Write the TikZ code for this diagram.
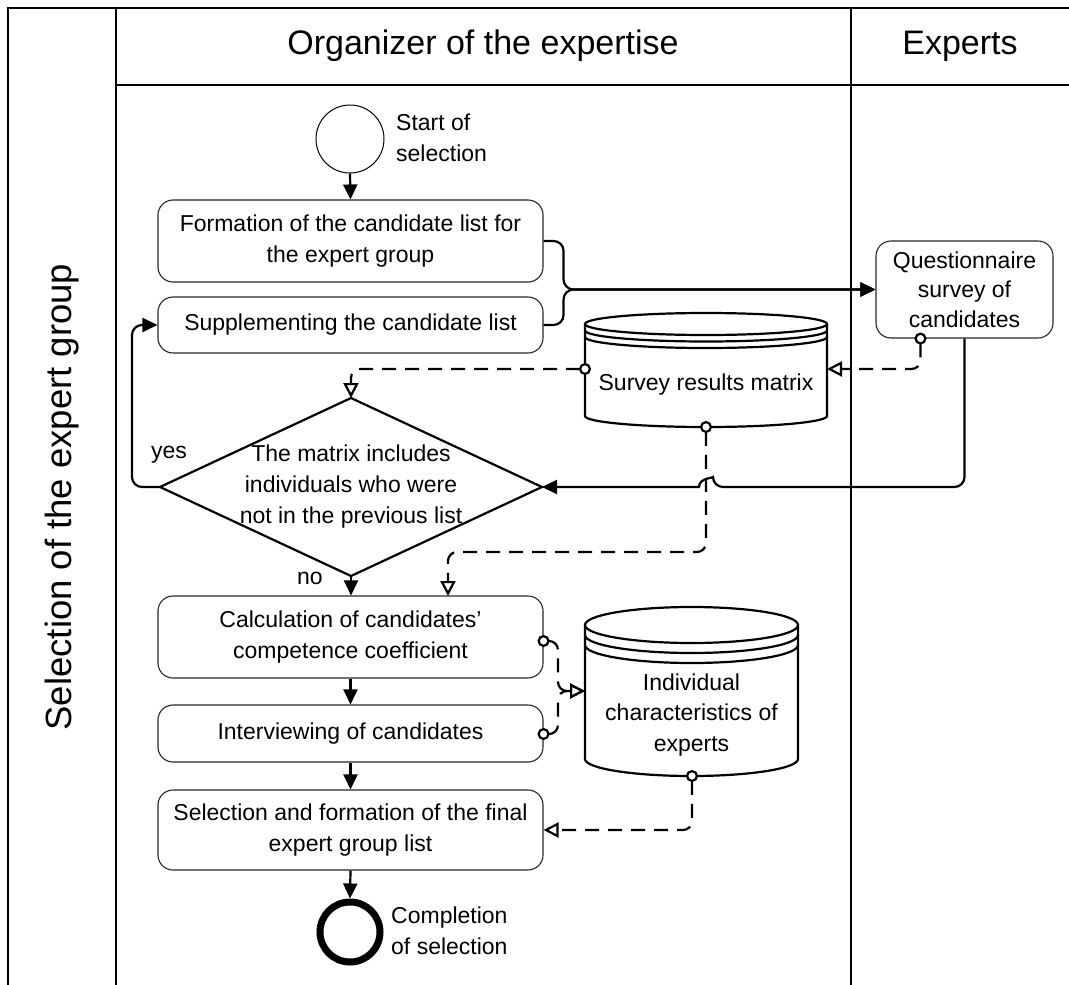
\documentclass[tikz,border=0pt]{standalone}
\usepackage{fontspec}
\setmainfont{Liberation Sans}
\usetikzlibrary{arrows.meta,calc}
\begin{document}
\begin{tikzpicture}[x=1pt,y=-1pt,
  lane/.style={line width=2.2pt,black},
  txt/.style={font=\fontsize{23}{31}\selectfont, align=center, inner sep=0pt},
  proc/.style={draw=black!85, line width=1.1pt, rounded corners=15pt, minimum width=385pt, inner sep=0pt, txt},
  flow/.style={line width=2.2pt, -{Triangle[length=15pt,width=14pt]}, rounded corners=10pt},
  info/.style={line width=2.2pt, dash pattern=on 14pt off 9pt, {Circle[length=12pt,width=12pt,fill=white]}-{Triangle[open,length=15pt,width=15pt]}, rounded corners=9pt, shorten <=-6pt},
  store/.style={line width=2.2pt},
]
\useasboundingbox (0,0) rectangle (1069,985);

% swimlane frame
\draw[lane] (8,985) -- (8,8) -- (1069,8);
\draw[lane] (116,8) -- (116,985);
\draw[lane] (851,8) -- (851,985);
\draw[lane] (116,85) -- (1069,85);
\node[font=\fontsize{36.5}{40}\selectfont, rotate=90, inner sep=0pt] (title) at (62,497) {Selection of the expert group};
\node[font=\fontsize{34}{40}\selectfont, inner sep=0pt] (h1) at (483,46) {Organizer of the expertise};
\node[font=\fontsize{34}{40}\selectfont, inner sep=0pt] (h2) at (960,46) {Experts};

% start / end
\node[draw, line width=1pt, circle, minimum size=68pt, inner sep=0pt] (start) at (350,139) {};
\node[txt, align=left, anchor=west] (startlbl) at (396,138) {Start of\\selection};
\node[draw, line width=7pt, circle, minimum size=60pt, inner sep=0pt] (finish) at (350,932) {};
\node[txt, align=left, anchor=west] (finlbl) at (391,931) {Completion\\of selection};

% process boxes
\node[proc, minimum height=82pt] (box1) at (350.5,241) {Formation of the candidate list for\\the expert group};
\node[proc, minimum height=56pt] (box2) at (350.5,325) {Supplementing the candidate list};
\node[proc, minimum height=82pt] (calc) at (350.5,637) {Calculation of candidates’\\competence coefficient};
\node[proc, minimum height=57pt] (intv) at (350.5,733.5) {Interviewing of candidates};
\node[proc, minimum height=80pt] (sel) at (350.5,830) {Selection and formation of the final\\expert group list};
\node[proc, minimum width=177pt, minimum height=97pt, font=\fontsize{23}{29.5}\selectfont] (q) at (964.5,289.5) {Questionnaire\\survey of\\candidates};

% decision diamond
\coordinate (dT) at (351,398);
\coordinate (dB) at (351,576);
\coordinate (dL) at (160,487);
\coordinate (dR) at (542,487);
\draw[line width=2.2pt] (dT) -- (dR) -- (dB) -- (dL) -- cycle;
\node[txt] (dtext) at (351,487) {The matrix includes\\individuals who were\\not in the previous list};
\node[txt] (yes) at (169,455) {yes};
\node[txt] (no) at (310,578) {no};

% survey results matrix (storage)
\draw[store] (585,324) -- (585,416) arc[start angle=180,end angle=360,x radius=121pt,y radius=11pt] -- (827,324);
\draw[store] (706,324) ellipse [x radius=121pt, y radius=11pt];
\draw[store] (585,330.5) arc[start angle=180,end angle=360,x radius=121pt,y radius=11pt];
\draw[store] (585,337) arc[start angle=180,end angle=360,x radius=121pt,y radius=11pt];
\node[txt] (mtext) at (706,385) {Survey results matrix};
\coordinate (mL) at (585,369);
\coordinate (mR) at (827,369);
\coordinate (mB) at (706,427);

% individual characteristics (storage)
\draw[store] (585,625) -- (585,759) arc[start angle=180,end angle=360,x radius=106.5pt,y radius=17pt] -- (798,625);
\draw[store] (691.5,625) ellipse [x radius=106.5pt, y radius=18pt];
\draw[store] (585,635) arc[start angle=180,end angle=360,x radius=106.5pt,y radius=18pt];
\draw[store] (585,645) arc[start angle=180,end angle=360,x radius=106.5pt,y radius=18pt];
\node[txt, font=\fontsize{23}{30.5}\selectfont] (itext) at (691.5,715) {Individual\\characteristics of\\experts};
\coordinate (iL) at (585,691);
\coordinate (iB) at (692,776);

% control flow
\draw[flow] (start.south) -- (box1.north);
\draw[flow] (box1.east) -- ++(20,0) |- (q.west);
\draw[flow] (box2.east) -- ++(20,0) |- (q.west);
\draw[flow] (q.south) |- (713,487) [sharp corners] .. controls (713,478) and (699,478) .. (699,487) -- (dR);
\draw[flow] (dL) -- (132,487) |- (box2.west);
\draw[flow] (dB) -- (dB |- calc.north);
\draw[flow] (calc.south) -- (intv.north);
\draw[flow] (intv.south) -- (sel.north);
\draw[flow] (sel.south) -- (finish.north);

% information flow
\draw[info] ($(q.south)+(-44,0)$) |- (mR);
\draw[info] (mL) -| (dT);
\draw[info] (mB) -- (706,552) -| (448,596);
\draw[info] ($(calc.east)+(0,4)$) -- (558,641) -- (558,691) -- (iL);
\draw[info] ($(intv.east)+(0,0.5)$) -- (558,734) -- (558,691) -- (iL);
\draw[info] (iB) |- (sel.east);
\end{tikzpicture}
\end{document}
